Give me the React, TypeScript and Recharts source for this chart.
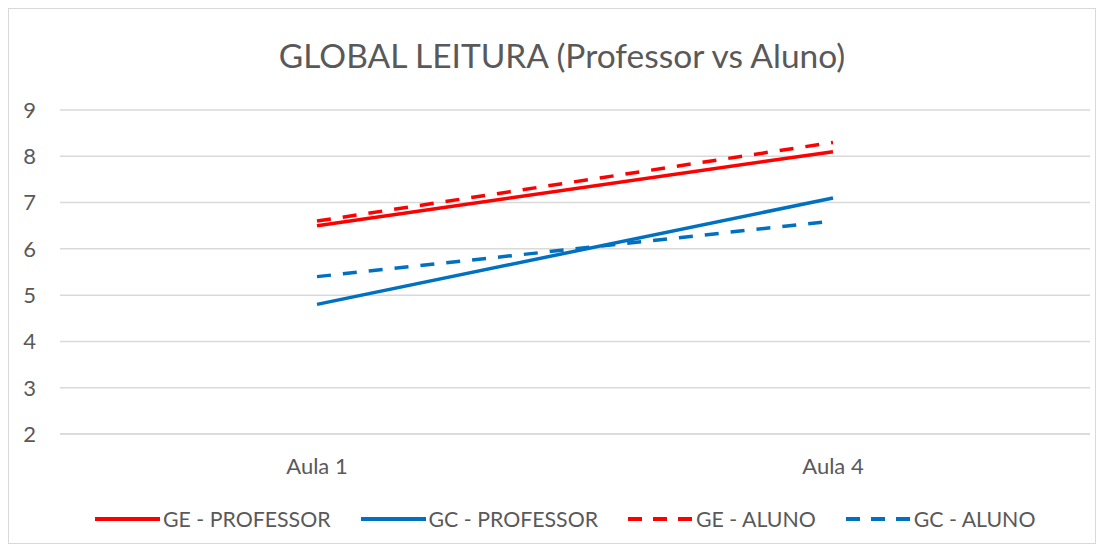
import { LineChart, Line, XAxis, YAxis, CartesianGrid, Legend } from 'recharts';

const categories = ['Aula 1', 'Aula 4'];
const geProfessor = [6.5, 8.1];
const gcProfessor = [4.8, 7.1];
const geAluno = [6.6, 8.3];
const gcAluno = [5.4, 6.6];
const yTicks = [2, 3, 4, 5, 6, 7, 8, 9];

const SERIES = [
  { key: 'geProfessor', name: 'GE - PROFESSOR', color: '#ff0000', dash: undefined, legendDash: undefined },
  { key: 'gcProfessor', name: 'GC - PROFESSOR', color: '#0070c0', dash: undefined, legendDash: undefined },
  { key: 'geAluno', name: 'GE - ALUNO', color: '#ff0000', dash: '14 12', legendDash: '14 11' },
  { key: 'gcAluno', name: 'GC - ALUNO', color: '#0070c0', dash: '14 12', legendDash: '14 11' },
];

const data = categories.map((name, i) => ({
  name,
  geProfessor: geProfessor[i],
  gcProfessor: gcProfessor[i],
  geAluno: geAluno[i],
  gcAluno: gcAluno[i],
}));

const FONT = 'Lato, "Open Sans", sans-serif';
const TEXT = '#595959';

function ChartLegend() {
  return (
    <div
      style={{
        display: 'flex',
        alignItems: 'center',
        paddingLeft: 86,
        width: 1086,
        height: 49,
        boxSizing: 'border-box',
        fontFamily: FONT,
        fontSize: 21.3,
        color: TEXT,
        whiteSpace: 'nowrap',
      }}
    >
      {SERIES.map((s) => (
        <div key={s.key} style={{ display: 'flex', alignItems: 'center', marginRight: 30, flexShrink: 0 }}>
          <svg width={65} height={10} style={{ marginRight: 3 }}>
            <line x1={0} y1={5} x2={65} y2={5} stroke={s.color} strokeWidth={4} strokeDasharray={s.legendDash} />
          </svg>
          <span>{s.name}</span>
        </div>
      ))}
    </div>
  );
}

export default function App() {
  return (
    <div
      style={{
        position: 'relative',
        width: 1086,
        height: 534,
        border: '1px solid #d9d9d9',
        background: '#fff',
      }}
    >
      <div
        style={{
          position: 'absolute',
          top: 30,
          left: 0,
          right: 0,
          textAlign: 'center',
          transform: 'translateX(10px)',
          fontFamily: FONT,
          fontSize: 33.5,
          lineHeight: '33px',
          color: TEXT,
          zIndex: 1,
        }}
      >
        GLOBAL LEITURA (Professor vs Aluno)
      </div>
      <LineChart width={1086} height={534} data={data} margin={{ top: 101, right: 5, bottom: 0, left: 0 }}>
        <CartesianGrid vertical={false} stroke="#d9d9d9" strokeWidth={1.5} />
        <XAxis
          dataKey="name"
          padding={{ left: 257, right: 257 }}
          axisLine={{ stroke: '#d9d9d9', strokeWidth: 1.5 }}
          tickLine={false}
          tickSize={0}
          tickMargin={24}
          height={60}
          tick={{ fill: TEXT, fontSize: 22, fontFamily: FONT }}
        />
        <YAxis
          domain={[2, 9]}
          ticks={yTicks}
          interval={0}
          width={51}
          axisLine={false}
          tickLine={false}
          tickSize={0}
          tickMargin={24}
          tick={{ fill: TEXT, fontSize: 22, fontFamily: FONT }}
        />
        <Legend
          verticalAlign="bottom"
          content={() => <ChartLegend />}
          wrapperStyle={{ height: 49, width: 1086, left: 0 }}
        />
        {SERIES.map((s) => (
          <Line
            key={s.key}
            dataKey={s.key}
            name={s.name}
            stroke={s.color}
            strokeWidth={3.5}
            strokeDasharray={s.dash}
            dot={false}
            activeDot={false}
            isAnimationActive={false}
          />
        ))}
      </LineChart>
    </div>
  );
}
